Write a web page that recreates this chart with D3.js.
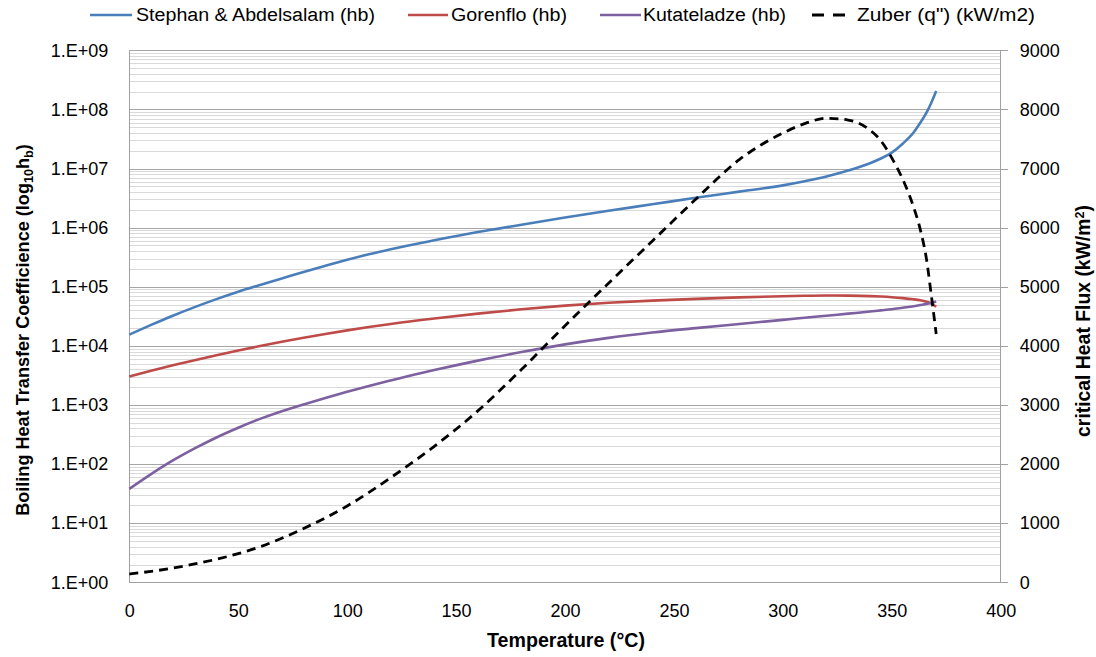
<!DOCTYPE html>
<html>
<head>
<meta charset="utf-8">
<script src="https://cdn.jsdelivr.net/npm/d3@7/dist/d3.min.js"></script>
<style>
  html, body { margin: 0; padding: 0; background: #fff; }
  svg { display: block; font-family: "Liberation Sans", Arial, sans-serif; }
</style>
</head>
<body>
<svg id="chart" width="1096" height="657"></svg>
<script>
// ---- data ----
const temps = [0,10,20,30,40,50,60,70,80,90,100,110,120,140,160,180,200,220,240,260,280,300,310,320,330,340,345,350,355,360,363,366,368,370.4];
const stephan = [15500,22600,32400,45200,61700,82200,107000,138000,178000,226000,285000,355000,432000,610000,841000,1.12e6,1.48e6,1.93e6,2.48e6,3.2e6,4.07e6,5.19e6,6.1e6,7.33e6,9.23e6,1.23e7,1.48e7,1.86e7,2.63e7,4.07e7,5.89e7,8.91e7,1.26e8,2.04e8];
const gorenflo = [3020,3776,4677,5728,6950,8356,9954,11750,13740,15920,18280,20800,23440,28970,35080,41500,47860,53460,58210,62370,66070,69180,70470,71120,70790,69500,68230,66530,64270,61240,58880,55590,52480,45710];
const kutateladze = [38,67.6,115,184,282,412,582,785,1023,1312,1667,2099,2600,3890,5623,7852,10590,13650,16790,19950,23440,27540,29850,32360,35080,38020,39810,41690,44160,46770,48980,51290,53090,56230];
const zuber = [140,185,240,310,390,485,600,745,910,1090,1290,1520,1770,2300,2900,3600,4340,5060,5770,6480,7150,7600,7760,7850,7820,7650,7470,7180,6820,6350,5980,5450,4900,4200];

const xTicks = [0,50,100,150,200,250,300,350,400];
const leftTicks = [1e0,1e1,1e2,1e3,1e4,1e5,1e6,1e7,1e8,1e9];
const leftTickLabels = ["1.E+00","1.E+01","1.E+02","1.E+03","1.E+04","1.E+05","1.E+06","1.E+07","1.E+08","1.E+09"];
const rightTicks = [0,1000,2000,3000,4000,5000,6000,7000,8000,9000];

const seriesNames = ["Stephan & Abdelsalam (hb)","Gorenflo (hb)","Kutateladze (hb)","Zuber (q\") (kW/m2)"];
const seriesColors = ["#4a7ebb","#be4b48","#7d60a0","#000000"];

// ---- layout ----
const L = 129.3, R = 1000.7, T = 50.3, B = 582.3;
const svg = d3.select("#chart");
svg.append("rect").attr("width",1096).attr("height",657).attr("fill","#fff");

const x = d3.scaleLinear().domain([0,400]).range([L,R]);
const y = d3.scaleLog().domain([1,1e9]).range([B,T]);
const y2 = d3.scaleLinear().domain([0,9000]).range([B,T]);

// gridlines
const minor = [];
for (let d = 0; d < 9; d++) for (let k = 2; k <= 9; k++) minor.push(k*Math.pow(10,d));
const grid = svg.append("g").attr("shape-rendering","crispEdges");
grid.selectAll("line.minor").data(minor).join("line").attr("class","minor")
  .attr("x1",L).attr("x2",R).attr("y1",d=>Math.round(y(d))+0.5).attr("y2",d=>Math.round(y(d))+0.5)
  .attr("stroke","#d9d9d9").attr("stroke-width",1);
grid.selectAll("line.major").data(leftTicks).join("line").attr("class","major")
  .attr("x1",L).attr("x2",R).attr("y1",d=>Math.round(y(d))+0.5).attr("y2",d=>Math.round(y(d))+0.5)
  .attr("stroke","#a6a6a6").attr("stroke-width",1);

// axis frame lines
const frame = svg.append("g").attr("shape-rendering","crispEdges").attr("stroke","#a0a0a0");
frame.append("line").attr("x1",L).attr("x2",L).attr("y1",T).attr("y2",B);
frame.append("line").attr("x1",R).attr("x2",R).attr("y1",T).attr("y2",B);
frame.append("line").attr("x1",L).attr("x2",R).attr("y1",B).attr("y2",B);

// axes
const tickFont = 18;
const gx = svg.append("g").attr("transform",`translate(0,${B})`)
  .call(d3.axisBottom(x).tickValues(xTicks).tickSize(0).tickPadding(22).tickFormat(d3.format("d")));
const gl = svg.append("g").attr("transform",`translate(${L},0)`)
  .call(d3.axisLeft(y).tickValues(leftTicks).tickSize(0).tickPadding(21).tickFormat((d,i)=>leftTickLabels[i]));
const gr = svg.append("g").attr("transform",`translate(${R},0)`)
  .call(d3.axisRight(y2).tickValues(rightTicks).tickSize(7).tickPadding(12).tickFormat(d3.format("d")));
[gx,gl,gr].forEach(g=>{
  g.select(".domain").remove();
  g.selectAll("text").attr("font-size",tickFont).attr("fill","#000")
   .attr("font-family","'Liberation Sans', Arial, sans-serif");
  g.selectAll(".tick line").attr("stroke","#a0a0a0").attr("shape-rendering","crispEdges");
});

// lines
const lineLog = vals => d3.line().x((d,i)=>x(temps[i])).y(d=>y(d)).curve(d3.curveMonotoneX)(vals);
const lineLin = vals => d3.line().x((d,i)=>x(temps[i])).y(d=>y2(d)).curve(d3.curveMonotoneX)(vals);
const plot = svg.append("g");
plot.append("path").attr("d",lineLog(stephan)).attr("fill","none").attr("stroke",seriesColors[0]).attr("stroke-width",2.6);
plot.append("path").attr("d",lineLog(gorenflo)).attr("fill","none").attr("stroke",seriesColors[1]).attr("stroke-width",2.6);
plot.append("path").attr("d",lineLog(kutateladze)).attr("fill","none").attr("stroke",seriesColors[2]).attr("stroke-width",2.6);
plot.append("path").attr("d",lineLin(zuber)).attr("fill","none").attr("stroke",seriesColors[3]).attr("stroke-width",2.8)
  .attr("stroke-dasharray","9,6");

// legend
const legend = [
  {x1:90, x2:132, tx:136, w:239},
  {x1:408, x2:448, tx:451, w:116},
  {x1:600, x2:641, tx:643, w:143},
  {x1:812, x2:845, tx:857, w:178}
];
const lg = svg.append("g");
legend.forEach((p,i)=>{
  const ln = lg.append("line").attr("x1",p.x1).attr("x2",p.x2).attr("y1",15).attr("y2",15)
    .attr("stroke",seriesColors[i]).attr("stroke-width",i===3?3:2.6);
  if (i===3) ln.attr("stroke-dasharray","12,9");
  lg.append("text").attr("x",p.tx).attr("y",15).attr("dy","0.36em").attr("font-size",18)
    .attr("textLength",p.w).attr("lengthAdjust","spacingAndGlyphs").text(seriesNames[i]);
});

// axis titles
function fitFont(sel, target, base) {
  const n = sel.node().getComputedTextLength();
  sel.attr("font-size", base*target/n);
}
const xt = svg.append("text").attr("x",566).attr("y",640).attr("dy","0.36em").attr("text-anchor","middle")
  .attr("font-weight","bold").attr("font-size",17).text("Temperature (\u00B0C)");
fitFont(xt,158,17);

const ylt = svg.append("text").attr("transform","translate(22,330) rotate(-90)").attr("text-anchor","middle")
  .attr("dy","0.36em").attr("font-weight","bold").attr("font-size",17);
ylt.append("tspan").text("Boiling Heat Transfer Coefficience (log");
ylt.append("tspan").attr("dy",4).attr("font-size","0.7em").text("10");
ylt.append("tspan").attr("dy",-4).text("h");
ylt.append("tspan").attr("dy",4).attr("font-size","0.7em").text("b");
ylt.append("tspan").attr("dy",-4).text(")");
fitFont(ylt,372,17);

const yrt = svg.append("text").attr("transform","translate(1083,321) rotate(-90)").attr("text-anchor","middle")
  .attr("dy","0.36em").attr("font-weight","bold").attr("font-size",17);
yrt.append("tspan").text("critical Heat Flux (kW/m");
yrt.append("tspan").attr("dy",-6).attr("font-size","0.65em").text("2");
yrt.append("tspan").attr("dy",6).text(")");
fitFont(yrt,232,17);
</script>
</body>
</html>
